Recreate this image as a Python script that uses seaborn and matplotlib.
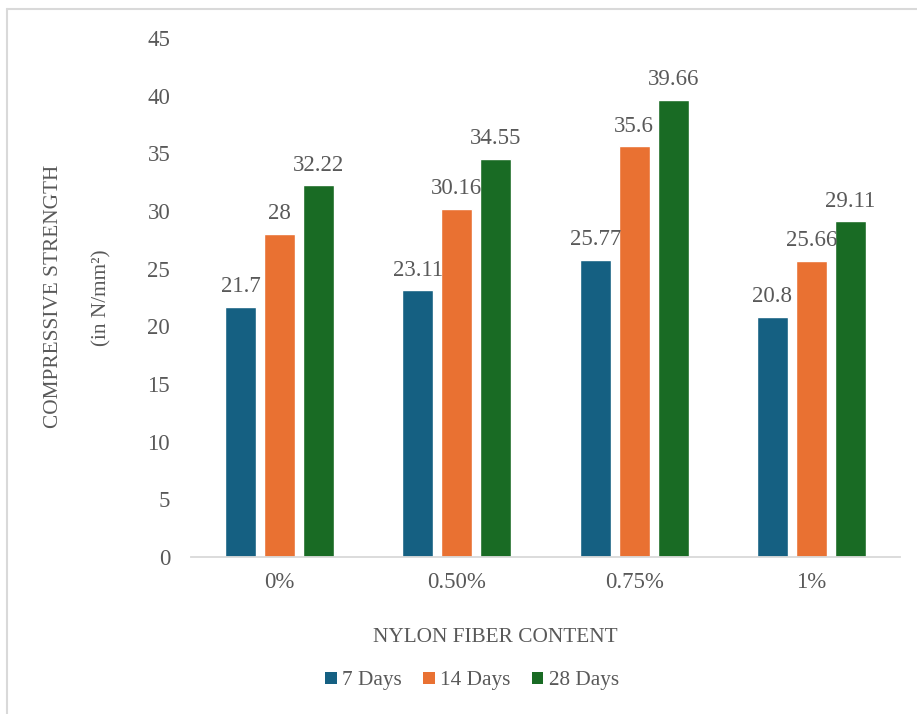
import matplotlib
matplotlib.use("Agg")
import matplotlib.pyplot as plt
from matplotlib.patches import Patch
from matplotlib.lines import Line2D
import seaborn as sns
import pandas as pd

categories = ["0%", "0.50%", "0.75%", "1%"]
series_names = ["7 Days", "14 Days", "28 Days"]
days7 = [21.7, 23.11, 25.77, 20.8]
days14 = [28, 30.16, 35.6, 25.66]
days28 = [32.22, 34.55, 39.66, 29.11]
colors = ["#156082", "#E97132", "#196B24"]
yticks = [0, 5, 10, 15, 20, 25, 30, 35, 40, 45]

rows = []
for name, vals in zip(series_names, [days7, days14, days28]):
    for c, v in zip(categories, vals):
        rows.append({"content": c, "age": name, "value": v})
df = pd.DataFrame(rows)

sns.set_style("white")
plt.rcParams["font.family"] = ["Liberation Serif", "DejaVu Serif"]
TXT = "#595959"
GRID = "#D9D9D9"

fig = plt.figure(figsize=(9.17, 7.14), dpi=100)
W, H = 917, 714
ax = fig.add_axes([191 / W, 1 - 557 / H, (900 - 191) / W, (557 - 38) / H])

sns.barplot(data=df, x="content", y="value", hue="age", order=categories,
            hue_order=series_names, palette=colors, width=0.66, gap=0.2,
            ax=ax, legend=False, saturation=1, errorbar=None)

for cont in ax.containers:
    ax.bar_label(cont, labels=[f"{v:g}" for v in cont.datavalues],
                 padding=7, fontsize=16.5, color=TXT)

ax.set_ylim(0, 45)
ax.set_xlim(-0.5, 3.5)
ax.set_yticks(yticks)
ax.set_yticklabels([str(t) for t in yticks])
ax.tick_params(axis="y", length=0, pad=15, labelsize=16.5, labelcolor=TXT)
ax.tick_params(axis="x", which="major", length=0, pad=11, labelsize=16.5, labelcolor=TXT)
ax.set_xticks([-0.5, 0.5, 1.5, 2.5, 3.5], minor=True)
ax.tick_params(axis="x", which="minor", length=6, width=1.3, color=GRID, direction="out")
ax.set_xlabel("")
ax.set_ylabel("")
for s in ["top", "right", "left"]:
    ax.spines[s].set_visible(False)
ax.spines["bottom"].set_color(GRID)
ax.spines["bottom"].set_linewidth(1.3)
ax.grid(False)

fig.text(495 / W, 1 - 637 / H, "NYLON FIBER CONTENT", ha="center", va="center",
         fontsize=15.3, color=TXT)
fig.text(54 / W, 1 - 296 / H, "COMPRESSIVE STRENGTH", ha="center", va="center",
         rotation=90, fontsize=15.3, color=TXT)
fig.text(102 / W, 1 - 298 / H, "(in N/mm²)", ha="center", va="center",
         rotation=90, fontsize=15.3, color=TXT)

handles = [Patch(facecolor=c, edgecolor="none", label=n) for c, n in zip(colors, series_names)]
fig.legend(handles=handles, loc="center", bbox_to_anchor=(472 / W, 1 - 681 / H),
           ncol=3, frameon=False, fontsize=15.3, labelcolor=TXT,
           handlelength=0.55, handleheight=0.55, handletextpad=0.25, columnspacing=1.0)

# chart frame (left and top edges visible)
fig.add_artist(Line2D([7 / W, 7 / W], [0, 1 - 9 / H], color=GRID, linewidth=1.5,
                      transform=fig.transFigure))
fig.add_artist(Line2D([7 / W, 1], [1 - 9 / H, 1 - 9 / H], color=GRID, linewidth=1.5,
                      transform=fig.transFigure))

fig.savefig("out.png", dpi=100)
